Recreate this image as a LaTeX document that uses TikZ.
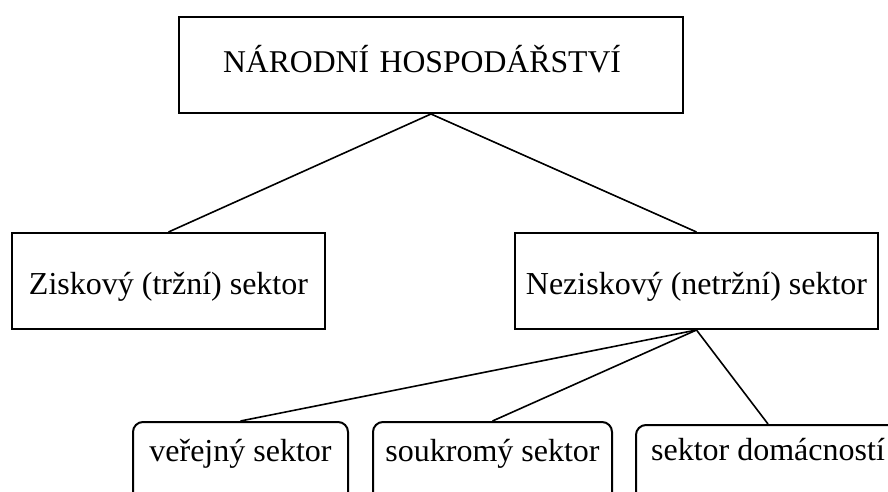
\documentclass[tikz,border=0pt]{standalone}
\usepackage{fontspec}
\setmainfont{Liberation Serif}
\begin{document}
\begin{tikzpicture}[x=1pt,y=-1pt,
  box/.style={draw, line width=2pt, inner sep=0pt, font=\fontsize{32}{38}\selectfont},
  rbox/.style={box, rounded corners=10pt, minimum height=84pt},
  conn/.style={line width=1.6pt}]
\useasboundingbox (0,0) rectangle (888,492);
\clip (0,0) rectangle (888,492);
\fill[white] (0,0) rectangle (888,492);
% top level
\node[box, font=\fontsize{31.7}{38}\selectfont, minimum width=504pt, minimum height=96pt,
      text width=416pt, align=left, text height=22pt, text depth=6pt]
      (nh) at (431,65) {NÁRODNÍ HOSPODÁŘSTVÍ};
% second level
\node[box, minimum width=313pt, minimum height=96pt, text height=26pt, text depth=0pt]
      (zisk) at (168.5,281) {Ziskový (tržní) sektor};
\node[box, minimum width=363pt, minimum height=96pt, text height=26pt, text depth=0pt]
      (nezisk) at (696.5,281) {Neziskový (netržní) sektor};
% third level (cut off at the bottom edge)
\node[rbox, minimum width=215pt, text height=8pt, text depth=14pt]
      (verejny) at (240.5,464) {veřejný sektor};
\node[rbox, minimum width=239pt, text height=8pt, text depth=14pt]
      (soukromy) at (492.5,464) {soukromý sektor};
\node[rbox, minimum width=264pt, text height=2pt, text depth=16pt]
      (domac) at (768,467) {sektor domácností};
% connectors
\draw[conn] (nh.south) -- (zisk.north);
\draw[conn] (nh.south) -- (nezisk.north);
\draw[conn] (nezisk.south) -- (verejny.north);
\draw[conn] (nezisk.south) -- (soukromy.north);
\draw[conn] (nezisk.south) -- (domac.north);
\end{tikzpicture}
\end{document}
